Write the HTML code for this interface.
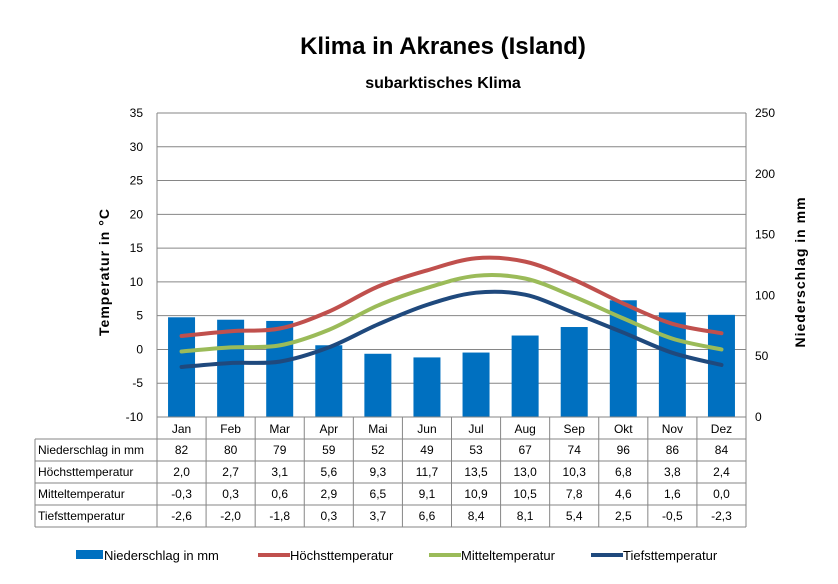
<!DOCTYPE html>
<html><head><meta charset="utf-8"><style>
body{margin:0;background:#fff;font-family:"Liberation Sans",Arial,sans-serif}
svg text{font-family:"Liberation Sans",Arial,sans-serif}
</style></head><body>
<svg id="c" width="838" height="579" xmlns="http://www.w3.org/2000/svg">
<rect width="838" height="579" fill="#fff"/>
<text x="443" y="54" text-anchor="middle" font-size="24" font-weight="bold">Klima in Akranes (Island)</text>
<text x="443" y="88" text-anchor="middle" font-size="16" font-weight="bold">subarktisches Klima</text>
<text transform="translate(109,272) rotate(-90)" text-anchor="middle" font-size="14" font-weight="bold" letter-spacing="1">Temperatur in °C</text>
<text transform="translate(805,272) rotate(-90)" text-anchor="middle" font-size="14" font-weight="bold" letter-spacing="1">Niederschlag in mm</text>
<g id="grid"></g><g id="bars"></g><g id="lines"></g><g id="axes"></g><g id="table"></g><g id="legend"></g>
</svg>
<script>
const months=["Jan","Feb","Mar","Apr","Mai","Jun","Jul","Aug","Sep","Okt","Nov","Dez"];
const precip=[82,80,79,59,52,49,53,67,74,96,86,84];
const tmax=[2.0,2.7,3.1,5.6,9.3,11.7,13.5,13.0,10.3,6.8,3.8,2.4];
const tmean=[-0.3,0.3,0.6,2.9,6.5,9.1,10.9,10.5,7.8,4.6,1.6,0.0];
const tmin=[-2.6,-2.0,-1.8,0.3,3.7,6.6,8.4,8.1,5.4,2.5,-0.5,-2.3];
const leftTicks=[-10,-5,0,5,10,15,20,25,30,35];
const rightTicks=[0,50,100,150,200,250];
const NS="http://www.w3.org/2000/svg";
const X0=157,X1=746,Y0=113,Y1=417,cw=(X1-X0)/12;
const yT=v=>Y1-(v+10)/45*(Y1-Y0);
const yP=v=>Y1-v/250*(Y1-Y0);
const xC=i=>X0+cw*(i+0.5);
function mk(p,t,a){const e=document.createElementNS(NS,t);for(const k in a)e.setAttribute(k,a[k]);document.getElementById(p).appendChild(e);return e;}
function fmt(v){return v.toFixed(1).replace('.',',');}
leftTicks.forEach(v=>{
 const l=mk('grid','line',{x1:X0,x2:X1,y1:yT(v),y2:yT(v),stroke:'#868686','stroke-width':1});
 
 
 const t=mk('axes','text',{x:143,y:yT(v)+4,'text-anchor':'end','font-size':12});
 t.textContent=v;
 
 
});
rightTicks.forEach(v=>{
 const t=mk('axes','text',{x:755,y:yP(v)+4,'font-size':12});
 t.textContent=v;
 
 
});
mk('axes','line',{x1:X0,x2:X0,y1:Y0,y2:Y1,stroke:'#868686'});
mk('axes','line',{x1:X1,x2:X1,y1:Y0,y2:Y1,stroke:'#868686'});
precip.forEach((v,i)=>{
 const r=mk('bars','rect',{x:xC(i)-13.5,y:yP(v),width:27,height:Y1-yP(v),fill:'#0070c0'});
 
 
});
function curve(vals){
 const p=vals.map((v,i)=>[xC(i),yT(v)]);
 let d=`M${p[0][0]},${p[0][1]}`;
 for(let i=0;i<p.length-1;i++){
  const a=p[Math.max(i-1,0)],b=p[i],c=p[i+1],e=p[Math.min(i+2,p.length-1)];
  const c1=[b[0]+(c[0]-a[0])/6,b[1]+(c[1]-a[1])/6],c2=[c[0]-(e[0]-b[0])/6,c[1]-(e[1]-b[1])/6];
  d+=` C${c1[0]},${c1[1]} ${c2[0]},${c2[1]} ${c[0]},${c[1]}`;
 }
 return d;
}
[[tmax,'#c0504d','line-hoechst'],[tmean,'#9bbb59','line-mittel'],[tmin,'#1f497d','line-tiefst']].forEach(([s,c,n])=>{
 const p=mk('lines','path',{d:curve(s),fill:'none',stroke:c,'stroke-width':4,'stroke-linecap':'round'});
 
 
});
// table
const TY=[417,439,461,483,505,527],TL=35;
const rows=[["Niederschlag in mm",precip.map(String)],["Höchsttemperatur",tmax.map(fmt)],["Mitteltemperatur",tmean.map(fmt)],["Tiefsttemperatur",tmin.map(fmt)]];
mk('table','line',{x1:X0,x2:X1,y1:Y1,y2:Y1,stroke:'#868686'});
for(let r=1;r<TY.length;r++) mk('table','line',{x1:TL,x2:X1,y1:TY[r],y2:TY[r],stroke:'#868686'});
mk('table','line',{x1:TL,x2:TL,y1:439,y2:527,stroke:'#868686'});
for(let i=0;i<=12;i++) mk('table','line',{x1:X0+cw*i,x2:X0+cw*i,y1:Y1,y2:527,stroke:'#868686'});
months.forEach((m,i)=>{
 const t=mk('table','text',{x:xC(i),y:433,'text-anchor':'middle','font-size':12});
 t.textContent=m;
 
 
});
rows.forEach(([lab,vals],r)=>{
 const y=TY[r+1]+15;
 const t=mk('table','text',{x:TL+3,y:y,'font-size':12});
 t.textContent=lab;
 
 
 vals.forEach((v,i)=>{
  const c=mk('table','text',{x:xC(i),y:y,'text-anchor':'middle','font-size':12});
  c.textContent=v;
  
  
 });
});
// legend
const leg=[["Niederschlag in mm",'#0070c0',76,'bar'],["Höchsttemperatur",'#c0504d',258,'line'],["Mitteltemperatur",'#9bbb59',429,'line'],["Tiefsttemperatur",'#1f497d',591,'line']];
leg.forEach(([n,c,x,k])=>{
 if(k==='bar') mk('legend','rect',{x:x,y:550,width:27,height:9,fill:c});
 else mk('legend','line',{x1:x,x2:x+32,y1:555,y2:555,stroke:c,'stroke-width':4});
 const t=mk('legend','text',{x:x+(k==='bar'?28:32),y:560,'font-size':13});
 t.textContent=n;
 
 
});
</script>
</body></html>
